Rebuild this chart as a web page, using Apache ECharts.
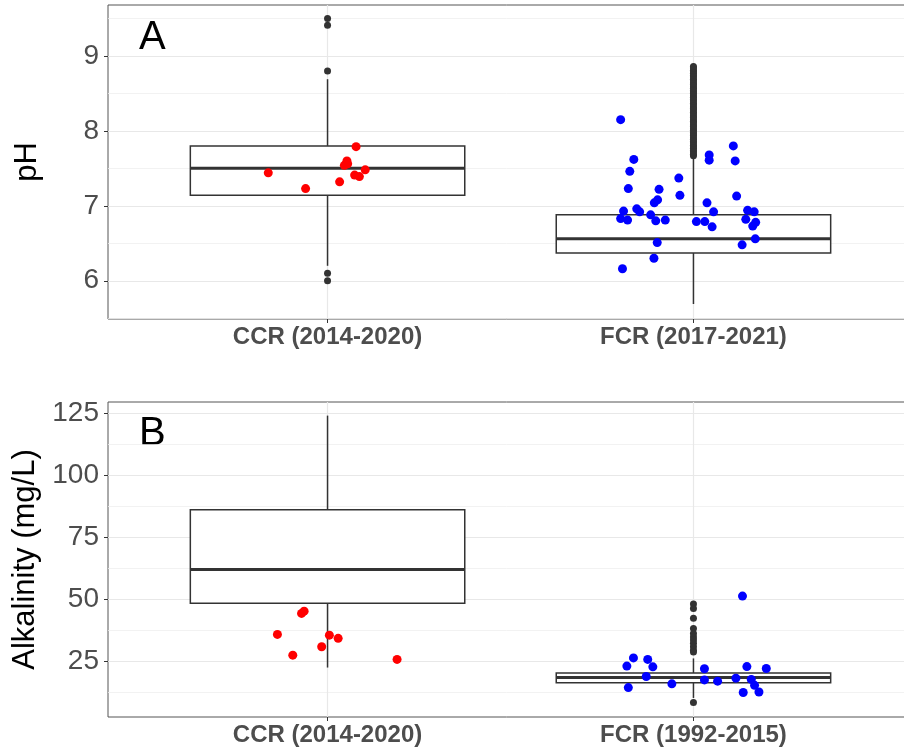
<!DOCTYPE html>
<html><head><meta charset="utf-8">
<script src="https://cdn.jsdelivr.net/npm/echarts@6/dist/echarts.min.js"></script>
<style>html,body{margin:0;padding:0;background:#fff;overflow:hidden}#c{width:904px;height:752px}</style>
</head><body><div id="c"></div>
<script>
// ---------- data ----------
const categoriesA = ['CCR (2014-2020)', 'FCR (2017-2021)'];
const categoriesB = ['CCR (2014-2020)', 'FCR (1992-2015)'];
const ticksA = [6, 7, 8, 9];
const minorA = [5.5, 6.5, 7.5, 8.5, 9.5];
const ticksB = [25, 50, 75, 100, 125];
const minorB = [12.5, 37.5, 62.5, 87.5, 112.5];
// box stats: [category position, lower whisker, Q1, median, Q3, upper whisker]
const boxA = [[1, 6.20, 7.14, 7.50, 7.80, 8.69], [2, 5.69, 6.37, 6.56, 6.88, 7.64]];
const boxB = [[1, 22.3, 48.3, 62.0, 86.1, 124.2], [2, 10.0, 16.2, 18.3, 20.1, 26.0]];
// outliers
const outA_ccr = [9.50, 9.41, 8.80, 6.10, 6.00];
const outA_fcr = [7.67,7.69,7.72,7.74,7.77,7.79,7.81,7.84,7.86,7.89,7.91,7.94,7.96,7.98,8.01,8.03,8.06,8.08,8.11,8.13,8.15,8.18,8.20,8.23,8.25,8.28,8.30,8.32,8.35,8.37,8.40,8.42,8.45,8.47,8.50,8.52,8.54,8.57,8.59,8.62,8.64,8.67,8.69,8.72,8.74,8.77,8.79,8.81,8.84,8.86];
const outB_fcr = [48.0, 46.2, 42.2, 38.1, 36.1, 34.7, 33.4, 32.1, 30.7, 29.3, 28.6, 8.2];
// jittered observations (x = jittered category position)
const ccrPhX = [0.838, 0.940, 1.033, 1.053, 1.055, 1.046, 1.078, 1.074, 1.087, 1.103];
const ccrPhY = [7.44, 7.23, 7.32, 7.60, 7.56, 7.54, 7.79, 7.41, 7.39, 7.48];
const fcrPhX = [1.801,1.837,1.826,1.822,1.809,1.801,1.820,1.845,1.853,1.883,1.897,1.923,1.906,1.893,1.902,1.901,1.892,1.806,1.960,1.963,2.008,2.031,2.051,2.037,2.055,2.043,2.043,2.109,2.114,2.118,2.148,2.166,2.143,2.170,2.162,2.169,2.133];
const fcrPhY = [8.15,7.62,7.46,7.23,6.93,6.83,6.81,6.96,6.92,6.88,6.80,6.81,7.22,7.04,7.08,6.51,6.30,6.16,7.37,7.14,6.79,6.79,6.72,7.04,6.92,7.68,7.61,7.80,7.60,7.13,6.94,6.92,6.82,6.78,6.73,6.56,6.48];
const ccrAlkX = [0.863, 0.905, 0.929, 0.936, 0.984, 1.005, 1.029, 1.190];
const ccrAlkY = [35.7, 27.3, 44.2, 45.1, 30.7, 35.4, 34.1, 25.6];
const fcrAlkX = [1.836,1.818,1.875,1.889,1.871,1.822,1.941,2.030,2.030,2.066,2.116,2.146,2.134,2.199,2.158,2.167,2.179,2.136];
const fcrAlkY = [26.2,22.9,25.6,22.6,18.7,14.2,15.7,21.8,17.3,16.8,18.0,22.7,51.2,21.9,17.5,15.1,12.4,12.2];

// ---------- chart ----------
const FONT = "'Liberation Sans', Arial, sans-serif";
const zip = (xs, ys) => xs.map((x, i) => [x, ys[i]]);
const col = (x, ys) => ys.map(y => [x, y]);

function renderBox(params, api) {
  const x = api.value(0);
  const lo = api.coord([x, api.value(1)]);
  const q1 = api.coord([x, api.value(2)]);
  const med = api.coord([x, api.value(3)]);
  const q3 = api.coord([x, api.value(4)]);
  const hi = api.coord([x, api.value(5)]);
  const half = api.size([0.75, 0])[0] / 2;
  const st = { stroke: '#333', lineWidth: 1.5, fill: null };
  return { type: 'group', children: [
    { type: 'line', shape: { x1: lo[0], y1: lo[1], x2: q1[0], y2: q1[1] }, style: st },
    { type: 'line', shape: { x1: q3[0], y1: q3[1], x2: hi[0], y2: hi[1] }, style: st },
    { type: 'rect', shape: { x: q1[0] - half, y: q3[1], width: half * 2, height: q1[1] - q3[1] }, style: { stroke: '#333', lineWidth: 1.5, fill: '#fff' } },
    { type: 'line', shape: { x1: med[0] - half, y1: med[1], x2: med[0] + half, y2: med[1] }, style: { stroke: '#333', lineWidth: 3 } }
  ]};
}

function gridLines(idx, major, minor) {
  return {
    type: 'scatter', xAxisIndex: idx, yAxisIndex: idx, data: [], z: 1, silent: true,
    markLine: {
      z: 1, silent: true, symbol: ['none', 'none'], label: { show: false }, animation: false,
      emphasis: { disabled: true },
      data: [
        ...minor.map(v => ({ yAxis: v, lineStyle: { color: '#efefef', width: 0.8, type: 'solid' } })),
        ...major.map(v => ({ yAxis: v, lineStyle: { color: '#e8e8e8', width: 1.2, type: 'solid' } })),
        { xAxis: 1, lineStyle: { color: '#e8e8e8', width: 1.2, type: 'solid' } },
        { xAxis: 2, lineStyle: { color: '#e8e8e8', width: 1.2, type: 'solid' } }
      ]
    }
  };
}

function xAx(idx, cats) {
  return {
    type: 'value', gridIndex: idx, min: 0.4, max: 2.6,
    axisLine: { show: false },
    axisTick: { show: true, customValues: [1, 2], length: 4, lineStyle: { color: '#333', width: 1 } },
    axisLabel: { customValues: [1, 2], formatter: v => cats[Math.round(v) - 1], fontFamily: FONT, fontWeight: 'bold', fontSize: 24, color: '#4d4d4d', margin: 6 },
    splitLine: { show: false }
  };
}
function yAx(idx, min, max, ticks, name) {
  return {
    type: 'value', gridIndex: idx, min: min, max: max,
    axisLine: { show: false },
    axisTick: { show: true, customValues: ticks, length: 4, lineStyle: { color: '#333', width: 1 } },
    axisLabel: { customValues: ticks, fontFamily: FONT, fontSize: 28, color: '#4d4d4d', margin: 9 },
    splitLine: { show: false },
    name: name, nameLocation: 'middle', nameGap: 65,
    nameTextStyle: { fontFamily: FONT, fontSize: 31, color: '#000' }
  };
}

const chart = echarts.init(document.getElementById('c'), null, { renderer: 'canvas' });
chart.setOption({
  animation: false,
  backgroundColor: '#fff',
  grid: [
    { left: 108, top: 5, width: 805, height: 314, containLabel: false, outerBoundsMode: 'none', show: true, borderColor: '#555', borderWidth: 1, backgroundColor: '#fff' },
    { left: 108, top: 402, width: 805, height: 315, containLabel: false, outerBoundsMode: 'none', show: true, borderColor: '#555', borderWidth: 1, backgroundColor: '#fff' }
  ],
  xAxis: [xAx(0, categoriesA), xAx(1, categoriesB)],
  yAxis: [yAx(0, 5.49, 9.68, ticksA, 'pH'), yAx(1, 2.3, 129.7, ticksB, 'Alkalinity (mg/L)')],
  graphic: [
    { type: 'text', left: 139, top: 18, style: { text: 'A', font: '40px ' + FONT, fill: '#000' } },
    { type: 'text', left: 139, top: 414, style: { text: 'B', font: '40px ' + FONT, fill: '#000' } }
  ],
  series: [
    gridLines(0, ticksA, minorA),
    gridLines(1, ticksB, minorB),
    { type: 'custom', xAxisIndex: 0, yAxisIndex: 0, z: 2, renderItem: renderBox, encode: { x: 0, y: [1, 2, 3, 4, 5] }, data: boxA },
    { type: 'custom', xAxisIndex: 1, yAxisIndex: 1, z: 2, renderItem: renderBox, encode: { x: 0, y: [1, 2, 3, 4, 5] }, data: boxB },
    { type: 'scatter', xAxisIndex: 0, yAxisIndex: 0, z: 3, symbolSize: 7, itemStyle: { color: '#333', opacity: 1 }, data: col(1, outA_ccr).concat(col(2, outA_fcr)) },
    { type: 'scatter', xAxisIndex: 1, yAxisIndex: 1, z: 3, symbolSize: 7, itemStyle: { color: '#333', opacity: 1 }, data: col(2, outB_fcr) },
    { type: 'scatter', xAxisIndex: 0, yAxisIndex: 0, z: 4, symbolSize: 9, itemStyle: { color: '#ff0000', opacity: 1 }, data: zip(ccrPhX, ccrPhY) },
    { type: 'scatter', xAxisIndex: 0, yAxisIndex: 0, z: 4, symbolSize: 9, itemStyle: { color: '#0000ff', opacity: 1 }, data: zip(fcrPhX, fcrPhY) },
    { type: 'scatter', xAxisIndex: 1, yAxisIndex: 1, z: 4, symbolSize: 9, itemStyle: { color: '#ff0000', opacity: 1 }, data: zip(ccrAlkX, ccrAlkY) },
    { type: 'scatter', xAxisIndex: 1, yAxisIndex: 1, z: 4, symbolSize: 9, itemStyle: { color: '#0000ff', opacity: 1 }, data: zip(fcrAlkX, fcrAlkY) }
  ]
});
</script></body></html>
